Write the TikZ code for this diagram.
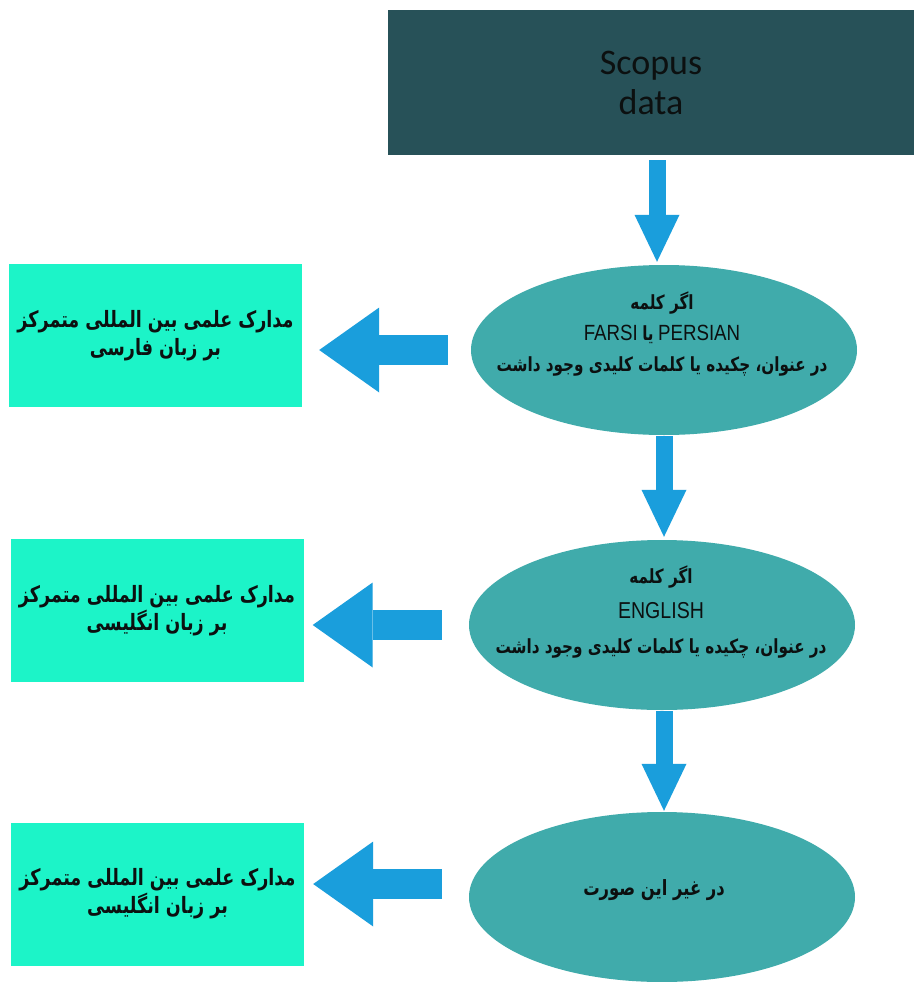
\documentclass[tikz,border=0pt]{standalone}
\usepackage{fontspec}
\setmainfont{Carlito}
\newfontfamily\arfont[Script=Arabic,FakeStretch=0.78]{DejaVu Sans}
\newfontfamily\narrowfont[FakeStretch=0.85]{Liberation Sans}
\TeXXeTstate=1
\usetikzlibrary{shapes.geometric,arrows.meta,calc}
\definecolor{topc}{RGB}{39,81,88}
\definecolor{ellc}{RGB}{64,171,171}
\definecolor{boxc}{RGB}{28,244,200}
\definecolor{arrc}{RGB}{26,158,220}
\definecolor{txtc}{RGB}{12,16,16}
\newcommand\artxt[1]{{\arfont\bfseries\beginR #1\endR}}
\begin{document}
\begin{tikzpicture}[x=1pt,y=-1pt,
  topbox/.style={rectangle, fill=topc, minimum width=526pt, minimum height=145pt, inner sep=0pt, text=txtc, align=center, font=\fontsize{36}{40}\selectfont},
  ell/.style={ellipse, fill=ellc, minimum width=386pt, minimum height=170pt, inner sep=0pt},
  resbox/.style={rectangle, fill=boxc, minimum width=293pt, minimum height=143pt, inner sep=0pt, text=txtc, align=center, font=\fontsize{22.5}{28}\selectfont},
  lbl/.style={text=txtc, align=center, inner sep=0pt},
  dnarrow/.style={draw=arrc, line width=17pt, -{Triangle[width=45pt,length=47pt,line width=0pt,fill=arrc]}},
  lfarrow/.style={draw=arrc, line width=30pt, -{Triangle[width=85pt,length=60pt,line width=0pt,fill=arrc]}}]
\useasboundingbox (0,0) rectangle (914,982);
\fill[white] (0,0) rectangle (914,982);
% main nodes
\node[topbox] (top) at (651,82.5) {Scopus\\data};
\node[ell] (e1) at (664,350) {};
\node[ell] (e2) at (662,625) {};
\node[ell] (e3) at (662,897) {};
\node[resbox] (b1) at (155.5,335.5) {\artxt{مدارک علمی بین المللی متمرکز}\\\artxt{بر زبان فارسی}};
\node[resbox] (b2) at (157,610.5) {\artxt{مدارک علمی بین المللی متمرکز}\\\artxt{بر زبان انگلیسی}};
\node[resbox] (b3) at (157.5,894) {\artxt{مدارک علمی بین المللی متمرکز}\\\artxt{بر زبان انگلیسی}};
% ellipse texts
\node[lbl, font=\fontsize{19.5}{31}\selectfont] (t1) at (662,334) {\artxt{اگر کلمه}\\{\narrowfont\fontsize{22}{31}\selectfont FARSI} \artxt{یا} {\narrowfont\fontsize{22}{31}\selectfont PERSIAN}\\\artxt{در عنوان، چکیده یا کلمات کلیدی وجود داشت}};
\node[lbl, font=\fontsize{19.5}{35}\selectfont] (t2) at (661,612) {\artxt{اگر کلمه}\\{\narrowfont\fontsize{23}{35}\selectfont ENGLISH}\\\artxt{در عنوان، چکیده یا کلمات کلیدی وجود داشت}};
\node[lbl, font=\fontsize{21}{31}\selectfont] (t3) at (654,890) {\artxt{در غیر این صورت}};
% down arrows
\draw[dnarrow] ($(top.south)+(6,5)$) -- ($(e1.north)+(-7,-3)$);
\draw[dnarrow] ($(e1.south)+(0,1)$) -- ($(e2.north)+(2,-3)$);
\draw[dnarrow] ($(e2.south)+(2,1)$) -- ($(e3.north)+(2,-1)$);
% left arrows
\draw[lfarrow] ($(e1.west)+(-23,0)$) -- ($(b1.east |- e1.west)+(17,0)$);
\draw[lfarrow] ($(e2.west)+(-27,0)$) -- ($(b2.east |- e2.west)+(9,0)$);
\draw[lfarrow] ($(e3.west)+(-27,-13)$) -- ($(b3.east)+(9,-10)$);
\end{tikzpicture}
\end{document}
